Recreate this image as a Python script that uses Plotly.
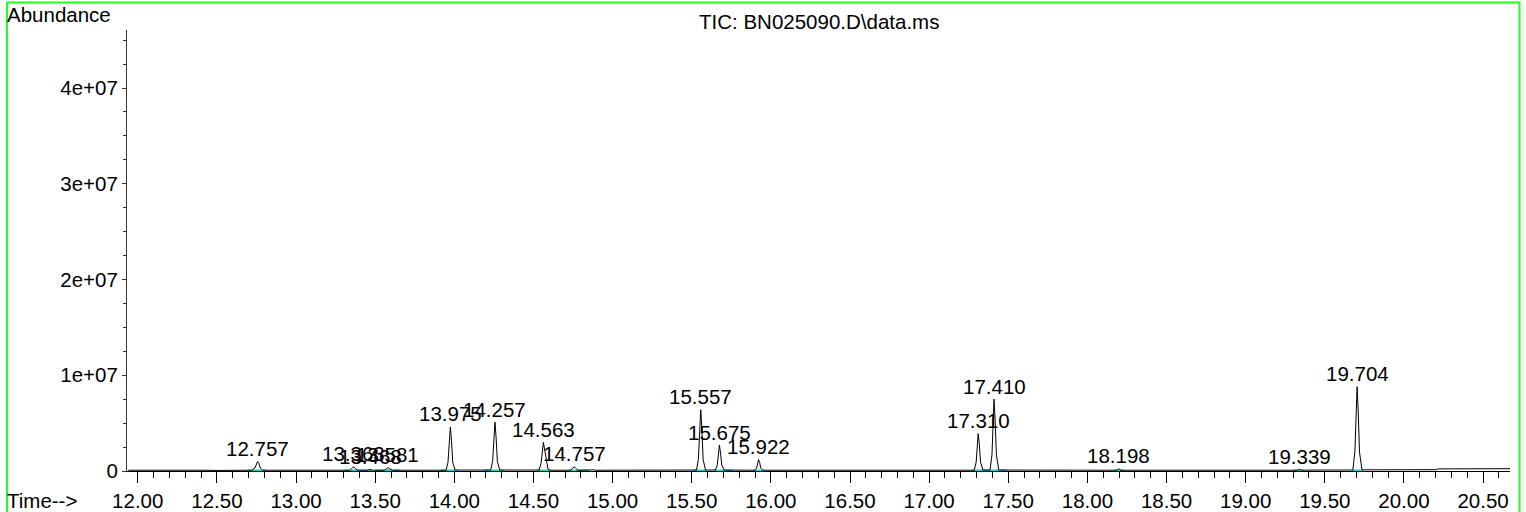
import plotly.graph_objects as go

# ---------------- data ----------------
rt_min = [
    11.94, 12.10, 12.20, 12.30, 12.40, 12.50, 12.60, 12.72,
    12.740, 12.750, 12.757, 12.765, 12.775, 12.79,
    13.00, 13.20, 13.340, 13.352, 13.363, 13.374, 13.390,
    13.450, 13.468, 13.485,
    13.560, 13.572, 13.581, 13.592, 13.610,
    13.80, 13.948, 13.960, 13.968, 13.975, 13.982, 13.990, 14.005,
    14.230, 14.242, 14.250, 14.257, 14.264, 14.272, 14.287,
    14.536, 14.548, 14.556, 14.563, 14.570, 14.576, 14.582, 14.592, 14.605,
    14.735, 14.748, 14.757, 14.766, 14.780,
    14.860, 14.875, 14.890,
    15.40, 15.45, 15.48,
    15.530, 15.542, 15.550, 15.557, 15.564, 15.572, 15.587,
    15.650, 15.661, 15.669, 15.675, 15.682, 15.690, 15.705,
    15.80, 15.898, 15.910, 15.916, 15.922, 15.929, 15.936, 15.950,
    16.50, 17.00,
    17.285, 17.297, 17.304, 17.310, 17.317, 17.325, 17.340,
    17.385, 17.397, 17.404, 17.410, 17.417, 17.425, 17.440,
    17.80, 18.185, 18.198, 18.212,
    18.80, 19.20, 19.28, 19.30,
    19.325, 19.339, 19.353, 19.45,
    19.677, 19.690, 19.697, 19.704, 19.711, 19.719, 19.735,
    20.00, 20.20, 20.22, 20.40, 20.67,
]
abundance = [
    80000, 100000, 60000, 120000, 80000, 60000, 80000, 80000,
    300000, 800000, 1000000, 800000, 300000, 80000,
    100000, 80000, 80000, 250000, 450000, 250000, 80000,
    80000, 150000, 80000,
    80000, 250000, 350000, 220000, 80000,
    80000, 80000, 900000, 3200000, 4600000, 3200000, 900000, 100000,
    100000, 1000000, 3500000, 5100000, 3500000, 1000000, 100000,
    100000, 800000, 2200000, 3000000, 2300000, 1800000, 1200000, 200000, 80000,
    80000, 300000, 450000, 300000, 80000,
    100000, 140000, 80000,
    80000, 150000, 80000,
    100000, 1200000, 4500000, 6400000, 4500000, 1200000, 100000,
    100000, 600000, 1900000, 2700000, 1900000, 600000, 100000,
    80000, 80000, 300000, 900000, 1200000, 900000, 300000, 80000,
    80000, 80000,
    80000, 900000, 2800000, 3900000, 2800000, 900000, 100000,
    100000, 1700000, 5300000, 7500000, 5300000, 1700000, 100000,
    80000, 80000, 220000, 80000,
    80000, 80000, 140000, 80000,
    80000, 160000, 80000, 100000,
    100000, 2000000, 6200000, 8800000, 6200000, 2000000, 120000,
    120000, 140000, 220000, 220000, 240000,
]

peak_labels = ["12.757", "13.363", "13.468", "13.581", "13.975", "14.257",
               "14.563", "14.757", "15.557", "15.675", "15.922", "17.310",
               "17.410", "18.198", "19.339", "19.704"]
peak_rt = [12.757, 13.363, 13.468, 13.581, 13.975, 14.257, 14.563, 14.757,
           15.557, 15.675, 15.922, 17.310, 17.410, 18.198, 19.339, 19.704]
peak_height = [1000000, 450000, 150000, 350000, 4600000, 5100000, 3000000,
               450000, 6400000, 2700000, 1200000, 3900000, 7500000, 220000,
               160000, 8800000]

integ_start = [12.693, 13.308, 13.50, 13.915, 14.19, 14.524, 14.724, 15.51,
               15.641, 15.889, 17.272, 17.375, 18.169, 19.307, 19.672]
integ_end = [12.803, 13.48, 13.66, 14.02, 14.315, 14.609, 14.851, 15.595,
             15.759, 15.959, 17.381, 17.491, 18.233, 19.366, 19.742]

x_tick_vals = [12.0, 12.5, 13.0, 13.5, 14.0, 14.5, 15.0, 15.5, 16.0, 16.5,
               17.0, 17.5, 18.0, 18.5, 19.0, 19.5, 20.0, 20.5]
x_tick_text = ["12.00", "12.50", "13.00", "13.50", "14.00", "14.50", "15.00",
               "15.50", "16.00", "16.50", "17.00", "17.50", "18.00", "18.50",
               "19.00", "19.50", "20.00", "20.50"]
y_tick_vals = [0, 10000000, 20000000, 30000000, 40000000]
y_tick_text = ["0", "1e+07", "2e+07", "3e+07", "4e+07"]

title_text = "TIC: BN025090.D\\data.ms"

# ---------------- figure ----------------
FONT = "Liberation Sans, Arial, Helvetica, sans-serif"
FS = 20.5
W, H = 1526, 512
ML, MR, MT, MB = 127, 16, 30, 41
PW, PH = W - ML - MR, H - MT - MB


def px_x(px):
    return (px - ML) / PW


def px_y(py):
    return (H - MB - py) / PH


fig = go.Figure()

# integration baselines (cyan)
cx, cy = [], []
for s, e in zip(integ_start, integ_end):
    cx += [s, e, None]
    cy += [0, 0, None]
fig.add_trace(go.Scatter(x=cx, y=cy, mode="lines",
                         line=dict(color="#00D8E0", width=3),
                         hoverinfo="skip", showlegend=False))

fig.add_trace(go.Scatter(x=rt_min, y=abundance, mode="lines",
                         line=dict(color="black", width=1),
                         showlegend=False))

for lab, x, y in zip(peak_labels, peak_rt, peak_height):
    fig.add_annotation(x=x, y=y, text=lab, showarrow=False,
                       xanchor="center", yanchor="middle", yshift=13,
                       font=dict(family=FONT, size=FS, color="black"))

fig.add_annotation(xref="paper", yref="paper", x=0.5, y=px_y(21.5),
                   text=title_text, showarrow=False, xanchor="center",
                   yanchor="middle", font=dict(family=FONT, size=FS, color="black"))
fig.add_annotation(xref="paper", yref="paper", x=px_x(5), y=px_y(15),
                   text="Abundance", showarrow=False, xanchor="left",
                   yanchor="middle", font=dict(family=FONT, size=FS, color="black"))
fig.add_annotation(xref="paper", yref="paper", x=px_x(5), y=px_y(500.5),
                   text="Time-->", showarrow=False, xanchor="left",
                   yanchor="middle", font=dict(family=FONT, size=FS, color="black"))

# green frame
fig.add_shape(type="rect", xref="paper", yref="paper",
              x0=px_x(7), x1=px_x(1519.5), y0=px_y(514), y1=px_y(2.5),
              line=dict(color="#22FF22", width=2), fillcolor="rgba(0,0,0,0)")

fig.update_layout(
    width=W, height=H,
    margin=dict(l=ML, r=MR, t=MT, b=MB, pad=0, autoexpand=False),
    paper_bgcolor="white", plot_bgcolor="white",
    font=dict(family=FONT, size=FS, color="black"),
    showlegend=False,
    xaxis=dict(range=[11.932, 20.67], tickvals=x_tick_vals, ticktext=x_tick_text,
               ticks="outside", ticklen=11, tickwidth=1, tickcolor="black",
               showline=True, linecolor="black", linewidth=1, automargin=False,
               showgrid=False, zeroline=False, layer="below traces",
               tickfont=dict(family=FONT, size=FS, color="black"),
               minor=dict(dtick=0.1, tick0=12.0, ticks="outside", ticklen=6,
                          tickwidth=1, tickcolor="black", showgrid=False)),
    yaxis=dict(range=[0, 46060000], tickvals=y_tick_vals, ticktext=y_tick_text,
               ticks="outside", ticklen=4, tickwidth=1, tickcolor="#333",
               showline=True, linecolor="#333", linewidth=1, automargin=False,
               showgrid=False, zeroline=False, layer="below traces",
               tickfont=dict(family=FONT, size=FS, color="black"),
               minor=dict(dtick=2500000, tick0=0, ticks="outside", ticklen=3,
                          tickwidth=1, tickcolor="#333", showgrid=False)),
)

fig.write_html(
    "out.html",
    config={"displayModeBar": False},
    post_script="document.body.style.margin='0';document.body.style.overflow='hidden';",
)
